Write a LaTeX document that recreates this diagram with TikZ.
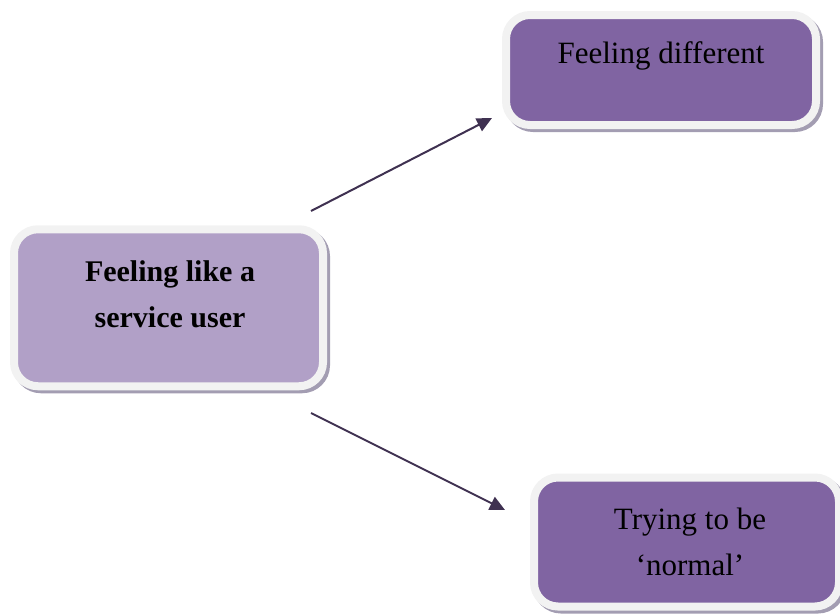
\documentclass[tikz,border=0pt]{standalone}
\usepackage{fontspec}
\setmainfont{Liberation Serif}
\usetikzlibrary{arrows.meta}

\definecolor{rim}{HTML}{F2F2F2}
\definecolor{lightplum}{HTML}{B1A0C7}
\definecolor{plum}{HTML}{8064A2}
\definecolor{arrowcol}{HTML}{3F3151}
\definecolor{shadowcol}{HTML}{A39DB2}

\tikzset{
  card/.style={rectangle, rounded corners=24pt, draw=rim, line width=8pt,
    inner sep=0pt,
    preaction={draw=shadowcol, fill=shadowcol, line width=8pt,
      transform canvas={shift={(3pt,-3pt)}}}},
  cardtext/.style={align=center, inner sep=0pt, font=\fontsize{31}{46}\selectfont},
  link/.style={draw=arrowcol, line width=2pt,
    -{Triangle[length=15pt,width=14pt]}}
}

\begin{document}
\begin{tikzpicture}[x=1pt,y=-1pt]
  \useasboundingbox (0,0) rectangle (840,613);

  % boxes
  \node[card, fill=lightplum, minimum width=309pt, minimum height=157pt]
    (user) at (168.5,307.75) {};
  \node[card, fill=plum, minimum width=310pt, minimum height=110pt]
    (diff) at (661,70) {};
  \node[card, fill=plum, minimum width=305pt, minimum height=129pt]
    (normal) at (686.5,542) {};

  % labels
  \node[cardtext, font=\fontsize{30}{46}\selectfont\bfseries]
    (userlbl) at (170,294) {Feeling like a\\service user};
  \node[cardtext] (difflbl) at (661,56) {Feeling different};
  \node[cardtext] (normallbl) at (690,542) {Trying to be\\‘normal’};

  % connectors
  \coordinate (upstart) at (311,211);
  \coordinate (upend) at (492,118);
  \coordinate (downstart) at (311,413);
  \coordinate (downend) at (505,510);
  \draw[link] (upstart) -- (upend);
  \draw[link] (downstart) -- (downend);
\end{tikzpicture}
\end{document}
